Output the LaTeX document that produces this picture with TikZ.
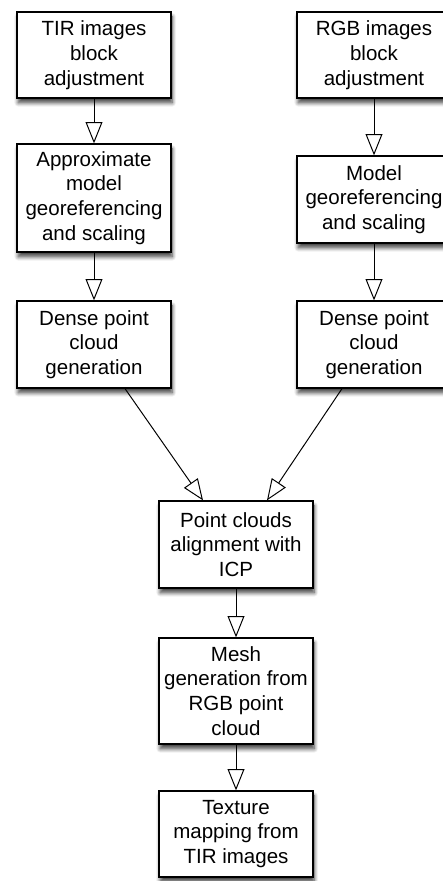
\documentclass[tikz,border=0pt]{standalone}
\usepackage{fontspec}
\setmainfont{Liberation Sans}
\usetikzlibrary{arrows.meta,shadows.blur}

\tikzset{
  stepbox/.style={draw, line width=0.9pt, fill=white, minimum width=3.85cm,
    align=center, inner sep=2pt, font=\fontsize{14.6}{17.6}\selectfont,
    blur shadow={shadow xshift=0.03cm, shadow yshift=-0.12cm,
      shadow blur radius=0.1cm, shadow blur steps=8, shadow opacity=75}},
  flow/.style={line width=0.7pt, -{Triangle[open, length=0.53cm, width=0.42cm]}}
}

\begin{document}
\begin{tikzpicture}
        \useasboundingbox (0,0) rectangle (11.05,-22.025);

        % TIR branch
        \node[stepbox, minimum height=2.15cm] (tirba) at (2.35,-1.375) {TIR images\\block\\adjustment};
        \node[stepbox, minimum height=2.7cm] (tirgeo) at (2.35,-4.95) {Approximate\\model\\georeferencing\\and scaling};
        \node[stepbox, minimum height=2.175cm] (tirdense) at (2.35,-8.6125) {Dense point\\cloud\\generation};

        % RGB branch
        \node[stepbox, minimum height=2.15cm] (rgbba) at (9.35,-1.375) {RGB images\\block\\adjustment};
        \node[stepbox, minimum height=2.175cm] (rgbgeo) at (9.35,-4.9875) {Model\\georeferencing\\and scaling};
        \node[stepbox, minimum height=2.175cm] (rgbdense) at (9.35,-8.6125) {Dense point\\cloud\\generation};

        % merged steps
        \node[stepbox, minimum height=2.175cm] (icp) at (5.9,-13.6125) {Point clouds\\alignment with\\ICP};
        \node[stepbox, minimum height=2.65cm] (mesh) at (5.9,-17.275) {Mesh\\generation from\\RGB point\\cloud};
        \node[stepbox, minimum height=2.15cm] (texture) at (5.9,-20.85) {Texture\\mapping from\\TIR images};

        \draw[flow] (tirba.south) -- (tirgeo.north);
        \draw[flow] (tirgeo.south) -- (tirdense.north);
        \draw[flow] (rgbba.south) -- (rgbgeo.north);
        \draw[flow] (rgbgeo.south) -- (rgbdense.north);
        \draw[flow] ([xshift=0.775cm]tirdense.south) -- ([xshift=-0.825cm]icp.north);
        \draw[flow] ([xshift=-0.8cm]rgbdense.south) -- ([xshift=0.775cm]icp.north);
        \draw[flow] (icp.south) -- (mesh.north);
        \draw[flow] (mesh.south) -- (texture.north);
    \end{tikzpicture}
\end{document}
